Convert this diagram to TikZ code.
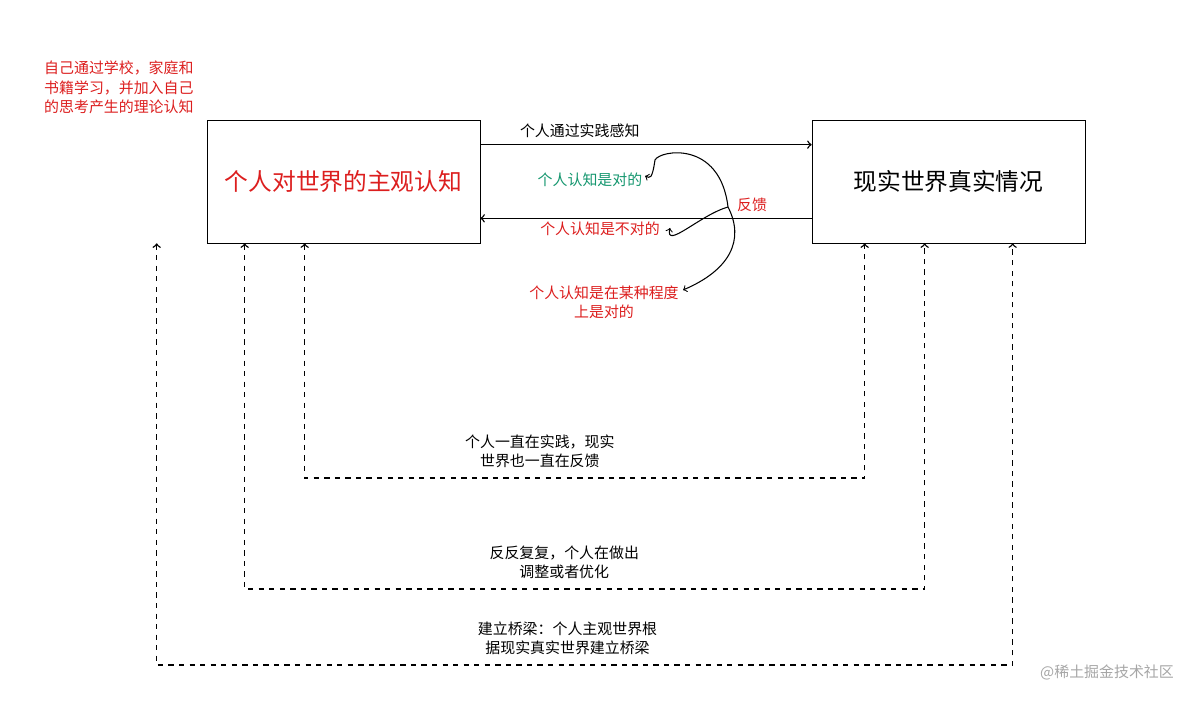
\documentclass[tikz,border=0pt]{standalone}
\usepackage{fontspec}
\setmainfont{Noto Sans CJK SC}
\usepackage{xcolor}
\usetikzlibrary{positioning}
\definecolor{notered}{RGB}{220,30,30}
\definecolor{notegreen}{RGB}{20,150,110}
\begin{document}
\begin{tikzpicture}[
    x=0.02cm, y=-0.02cm,
    worldbox/.style={rectangle, draw, minimum width=5.46cm, minimum height=2.46cm, font=\fontsize{13.5}{16}\selectfont},
    note/.style={font=\fontsize{8.5}{11}\selectfont, align=center},
    loop/.style={dashed, thick, <->, >=to}
]
\useasboundingbox (0,0) rectangle (1189,705);
\node[worldbox, text=notered] (subj) at (343.5,181.5) {个人对世界的主观认知};
\node[worldbox] (real) at (948.5,181.5) {现实世界真实情况};
\node[note, align=left, text=notered, anchor=north west] (src) at (38,55) {自己通过学校，家庭和\\书籍学习，并加入自己\\的思考产生的理论认知};

% practice and feedback
\draw[->, >=to, thick] ([yshift=-0.5cm]subj.north east) -- node[note, above, pos=0.3] (prac) {个人通过实践感知} ([yshift=-0.5cm]real.north west);
\draw[->, >=to, thick] ([yshift=0.5cm]real.south west) -- ([yshift=0.5cm]subj.south east);
\node[note, text=notegreen] (right) at (590,180) {个人认知是对的};
\node[note, text=notered] (wrong) at (600,229) {个人认知是不对的};
\node[note, text=notered] (fb) at (752,205) {反馈};
\node[note, text=notered] (part) at (604,302) {个人认知是在某种程度\\上是对的};
\coordinate (hub) at (728,207);
\draw[->, >=to, semithick] (hub) .. controls (720,140) and (660,150) .. (655,160) .. controls (652,180) and (650,178) .. (645,176);
\draw[->, >=to, semithick] (hub) .. controls (700,215) and (665,250) .. (670,228);
\draw[->, >=to, semithick] (hub) .. controls (745,240) and (730,270) .. (683,290);

% dashed loops
\coordinate (s1) at ([xshift=1.96cm]subj.south west);
\coordinate (s2) at ([xshift=0.76cm]subj.south west);
\coordinate (s3) at ([xshift=-1.0cm]subj.south west);
\coordinate (r1) at ([xshift=1.06cm]real.south west);
\coordinate (r2) at ([xshift=2.26cm]real.south west);
\coordinate (r3) at ([xshift=4.02cm]real.south west);
\coordinate (b1) at (0,478);
\coordinate (b2) at (0,589);
\coordinate (b3) at (0,665);
\draw[loop] (s1) -- (s1 |- b1) -- node[note, above, pos=0.42, yshift=2pt] (lp1) {个人一直在实践，现实\\世界也一直在反馈} (r1 |- b1) -- (r1);
\draw[loop] (s2) -- (s2 |- b2) -- node[note, above, pos=0.47, yshift=2pt] (lp2) {反反复复，个人在做出\\调整或者优化} (r2 |- b2) -- (r2);
\draw[loop] (s3) -- (s3 |- b3) -- node[note, above, pos=0.48, yshift=2pt] (lp3) {建立桥梁：个人主观世界根\\据现实真实世界建立桥梁} (r3 |- b3) -- (r3);

\node[note, text=gray!70, anchor=east] (mark) at (1180,672) {@稀土掘金技术社区};
\end{tikzpicture}
\end{document}
